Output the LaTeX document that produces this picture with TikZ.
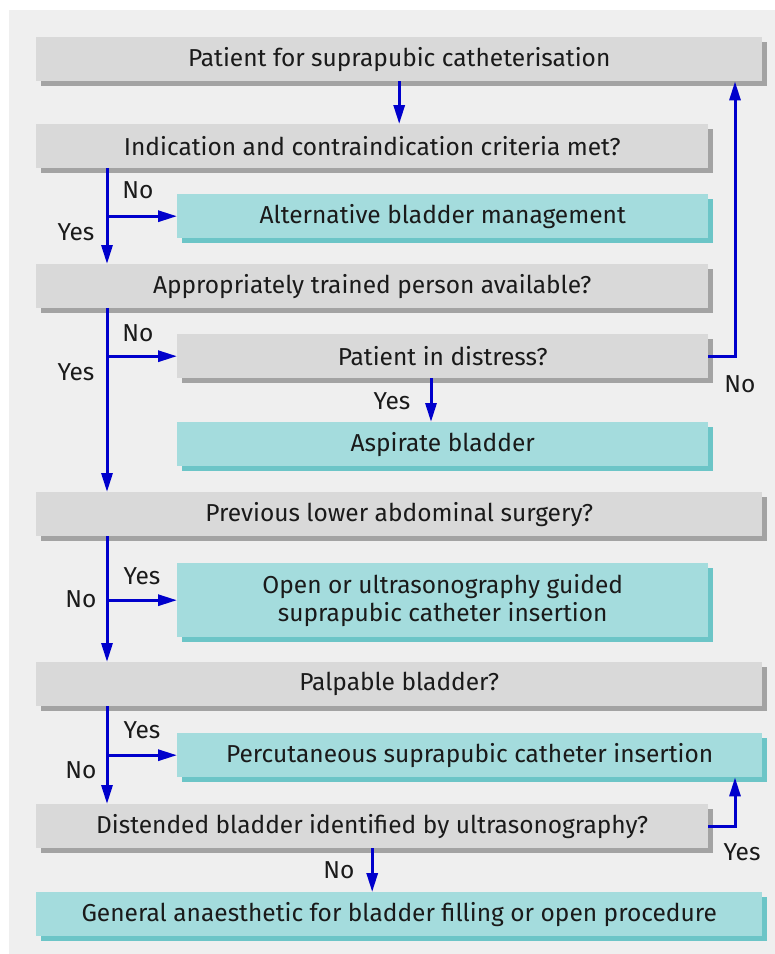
\documentclass[tikz,border=0pt]{standalone}
\usepackage{fontspec}
\setmainfont{Fira Sans}
\usetikzlibrary{shadows,arrows.meta}
\definecolor{bgc}{HTML}{EFEFEF}
\definecolor{gbox}{HTML}{D9D9D9}
\definecolor{gshadow}{HTML}{A3A3A3}
\definecolor{tbox}{HTML}{A4DCDD}
\definecolor{tshadow}{HTML}{6CC5C7}
\definecolor{arrblue}{HTML}{0000CC}
\definecolor{txt}{HTML}{1A1A1A}
\tikzset{
  box/.style={anchor=north west, inner sep=0pt, minimum height=44pt,
    font=\fontsize{24.5}{28}\selectfont, text=txt, align=center},
  greybox/.style={box, fill=gbox,
    general shadow={fill=gshadow, shadow xshift=5pt, shadow yshift=-5pt}},
  tealbox/.style={box, fill=tbox,
    general shadow={fill=tshadow, shadow xshift=5pt, shadow yshift=-5pt}},
  wide/.style={minimum width=726pt},
  narrow/.style={minimum width=672pt},
  rshort/.style={minimum width=531pt},
  rwide/.style={minimum width=585pt},
  arr/.style={draw=arrblue, line width=3pt, -{Triangle[length=19pt,width=11pt]}},
  lbl/.style={font=\fontsize{24.5}{28}\selectfont, text=txt, inner sep=0pt}
}
\begin{document}
\begin{tikzpicture}[x=1pt,y=-1pt]
\useasboundingbox (0,0) rectangle (775,954);
\fill[bgc] (9,10) rectangle (775,954);

\node[greybox, wide]   (b1)   at (36,37)  {Patient for suprapubic catheterisation};
\node[greybox, narrow] (b2)   at (36,124) {Indication and contraindication criteria met?};
\node[tealbox, rshort] (alt)  at (177,194) {Alternative bladder management};
\node[greybox, narrow] (b3)   at (36,264) {Appropriately trained person available?};
\node[greybox, rshort] (dis)  at (177,334) {Patient in distress?};
\node[tealbox, rshort] (asp)  at (177,422) {Aspirate bladder};
\node[greybox, wide]   (prev) at (36,492) {Previous lower abdominal surgery?};
\node[tealbox, rshort, minimum height=74pt] (open) at (177,563)
  {Open or ultrasonography guided\\suprapubic catheter insertion};
\node[greybox, wide]   (palp) at (36,662) {Palpable bladder?};
\node[tealbox, rwide]  (perc) at (177,733) {Percutaneous suprapubic catheter insertion};
\node[greybox, narrow] (dist) at (36,804) {Distended bladder identified by ultrasonography?};
\node[tealbox, wide]   (gen)  at (36,892) {General anaesthetic for bladder filling or open procedure};

\coordinate (mx) at (107,0);
\coordinate (dx) at (431,0);
\coordinate (rx) at (735,0);

% top
\draw[arr] (b1.south) -- (b1.south |- b2.north);
% indication
\draw[arr] (b2.south -| mx) -- (b3.north -| mx);
\draw[arr] (mx |- alt.west) -- (alt.west);
\node[lbl] (l1) at (138,190) {No};
\node[lbl] (l2) at (76,232) {Yes};
% trained person
\draw[arr] (b3.south -| mx) -- (prev.north -| mx);
\draw[arr] (mx |- dis.west) -- (dis.west);
\node[lbl] (l3) at (138,333) {No};
\node[lbl] (l4) at (76,372) {Yes};
% distress
\draw[arr] (dis.south -| dx) -- (asp.north -| dx);
\node[lbl] (l5) at (392,401) {Yes};
\draw[arr] (dis.east) -- (dis.east -| rx) -- (b1.south -| rx);
\node[lbl] (l6) at (740,384) {No};
% previous surgery
\draw[arr] (prev.south -| mx) -- (palp.north -| mx);
\draw[arr] (mx |- open.west) -- (open.west);
\node[lbl] (l7) at (142,576) {Yes};
\node[lbl] (l8) at (81,599) {No};
% palpable
\draw[arr] (palp.south -| mx) -- (dist.north -| mx);
\draw[arr] (mx |- perc.west) -- (perc.west);
\node[lbl] (l9) at (142,730) {Yes};
\node[lbl] (l10) at (81,770) {No};
% distended
\draw[arr] (dist.south) -- (dist.south |- gen.north);
\node[lbl] (l11) at (339,870) {No};
\draw[arr] (dist.east) -- (dist.east -| rx) -- (perc.south -| rx);
\node[lbl] (l12) at (742,852) {Yes};
\end{tikzpicture}
\end{document}
